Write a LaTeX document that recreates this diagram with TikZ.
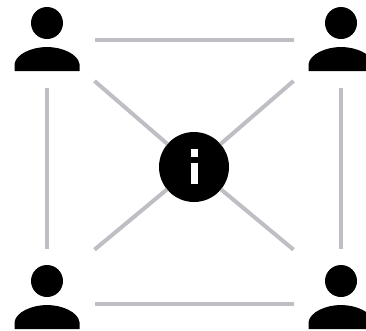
\documentclass[tikz,border=0pt]{standalone}
\begin{document}
\begin{tikzpicture}[x=1pt,y=-1pt,
  link/.style={draw=linkgrey,line width=4pt},
  anchorbox/.style={inner sep=0pt,outer sep=0pt,rectangle},
  topbox/.style={anchorbox,minimum width=95pt,minimum height=96pt},
  lowbox/.style={anchorbox,minimum width=95pt,minimum height=80pt},
  person/.pic={
    \fill[black] (0,0) circle[radius=16];
    \fill[black] (-32.5,48) -- (-32.5,41) .. controls (-31,31) and (-15,24) .. (0,24)
       .. controls (15,24) and (31,31) .. (32.5,41) -- (32.5,48) -- cycle;
  }]
\definecolor{linkgrey}{HTML}{BDBFC4}
\useasboundingbox (0,0) rectangle (366,330);
\clip (0,0) rectangle (366,330);
\node[circle,fill=black,inner sep=0pt,outer sep=0pt,minimum size=70pt] (hub) at (194,167) {};
\node[topbox] (a) at (47,40) {};
\node[topbox] (b) at (341,40) {};
\node[lowbox] (c) at (47,289) {};
\node[lowbox] (d) at (341,289) {};
\draw[link] (a.east) -- (b.west);
\draw[link] ([yshift=-15pt]c.east) -- ([yshift=-15pt]d.west);
\draw[link] (a.south) -- (c.north);
\draw[link] (b.south) -- (d.north);
\draw[link] (a) -- (hub);
\draw[link] (b) -- (hub);
\draw[link] (c) -- (hub);
\draw[link] (d) -- (hub);
\pic at (47,23) {person};
\pic at (341,23) {person};
\pic at (47,281) {person};
\pic at (341,281) {person};
\fill[white] (190.8,149) rectangle (198,157);
\fill[white] (190.8,163) rectangle (198,184);
\end{tikzpicture}
\end{document}
